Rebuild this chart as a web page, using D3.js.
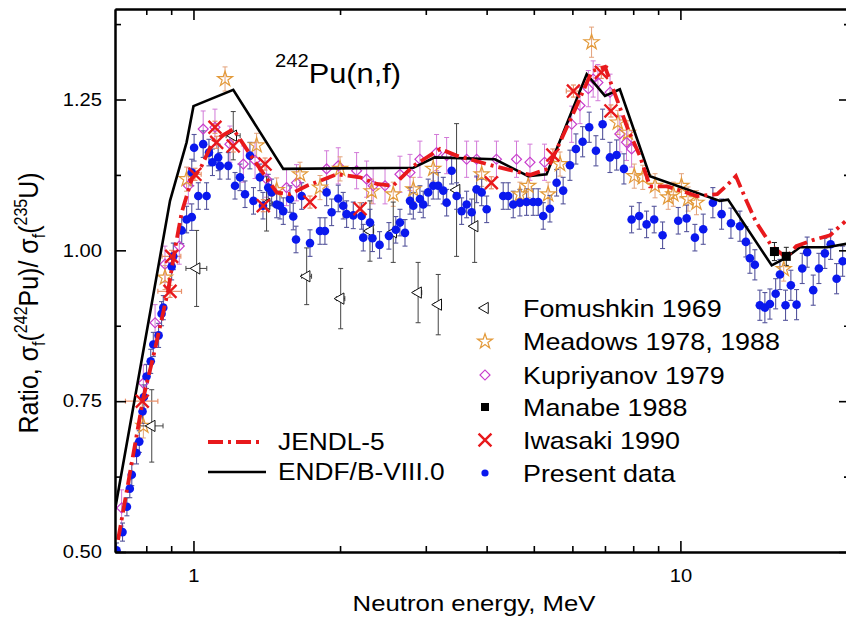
<!DOCTYPE html>
<html><head><meta charset="utf-8">
<script src="https://cdn.jsdelivr.net/npm/d3@7"></script>
<style>body{margin:0;background:#fff}svg{display:block}text{font-family:"Liberation Sans",Arial,sans-serif;fill:#000}</style>
</head><body><svg id="c" width="846" height="619"></svg>
<script>
// ---------- data ----------
const xMajorTicks=[1,10];
const xMinorTicks=[0.8,0.9,2,3,4,5,6,7,8,9];
const yMajorTicks=[0.5,0.75,1.0,1.25];
const yMinorTicks=[0.625,0.875,1.125,1.375];
const yTickLabels=["0.50","0.75","1.00","1.25"];

// ENDF/B-VIII.0 [E, ratio]
const endf=[[0.69,0.570],[0.826,0.924],[0.895,1.082],[0.968,1.179],[1.0,1.239],[1.207,1.266],[1.529,1.135],[2.83,1.137],[3.13,1.154],[4.16,1.151],[4.87,1.123],[5.31,1.126],[6.42,1.292],[7.0,1.256],[7.51,1.267],[8.66,1.123],[12.05,1.082],[12.53,1.084],[15.4,0.975],[16.5,0.988],[17.6,1.005],[20.0,1.005],[22.3,1.012]];
// JENDL-5 [E, ratio]
const jendl=[[0.70,0.52],[0.789,0.756],[0.827,0.824],[0.888,0.935],[0.916,1.002],[0.946,1.063],[0.992,1.118],[1.031,1.134],[1.098,1.181],[1.207,1.201],[1.327,1.151],[1.482,1.096],[1.578,1.093],[1.71,1.107],[1.97,1.126],[2.197,1.121],[2.378,1.110],[2.57,1.107],[2.83,1.140],[3.21,1.168],[3.47,1.157],[4.13,1.140],[4.92,1.125],[5.34,1.135],[6.08,1.234],[6.58,1.297],[7.0,1.304],[7.4,1.251],[7.8,1.201],[8.26,1.156],[8.66,1.106],[9.38,1.106],[10.1,1.098],[10.8,1.090],[11.9,1.093],[12.4,1.106],[13.0,1.123],[13.7,1.080],[14.3,1.047],[15.4,1.007],[16.5,0.988],[17.3,1.007],[18.7,1.017],[20.3,1.025],[21.8,1.048]];
// Fomushkin 1969 [E, ratio, dRatio, dE]
const fomushkin=[[0.821,0.709,0.060,0.045],[1.015,0.970,0.063,0.05],[1.207,1.190,0.040,0.04],[1.413,1.077,0.045,0.04],[1.708,0.957,0.047,0.04],[2.006,0.920,0.050,0.04],[2.304,1.032,0.050,0.04],[2.572,1.030,0.050,0.04],[2.893,0.930,0.050,0.05],[3.182,0.910,0.050,0.05],[3.47,1.100,0.110,0.05],[3.78,1.040,0.060,0.05]];
// Meadows 1978, 1988 [E, ratio, dRatio]
const meadows=[[0.789,0.709,0.02],[0.874,0.955,0.02],[0.968,1.118,0.02],[1.161,1.284,0.02],[1.348,1.174,0.02],[1.482,1.100,0.02],[1.655,1.126,0.02],[1.819,1.104,0.02],[2.0,1.135,0.02],[2.322,1.098,0.02],[2.572,1.093,0.02],[2.828,1.101,0.02],[3.107,1.135,0.02],[3.907,1.126,0.02],[4.681,1.093,0.02],[4.87,1.107,0.02],[5.35,1.093,0.02],[5.66,1.143,0.02],[6.57,1.345,0.025],[7.44,1.212,0.02],[7.8,1.195,0.02],[8.04,1.123,0.02],[8.37,1.121,0.02],[8.87,1.107,0.02],[9.44,1.088,0.02],[9.67,1.093,0.02],[10.05,1.107,0.02],[10.37,1.085,0.02],[10.79,1.079,0.02],[16.3,0.969,0.02]];
// Kupriyanov 1979 [E, ratio, dRatio]
const kupriyanov=[[0.712,0.573,0.03],[0.789,0.780,0.03],[0.834,0.880,0.03],[0.874,0.977,0.03],[0.935,1.007,0.03],[0.976,1.107,0.03],[1.047,1.201,0.03],[1.107,1.204,0.03],[1.188,1.176,0.03],[1.266,1.143,0.03],[1.338,1.149,0.03],[1.413,1.118,0.03],[1.553,1.104,0.03],[1.628,1.112,0.03],[1.877,1.135,0.03],[1.983,1.140,0.03],[2.163,1.132,0.03],[2.268,1.118,0.03],[2.339,1.107,0.03],[2.474,1.107,0.03],[2.655,1.126,0.03],[2.784,1.129,0.03],[2.918,1.151,0.03],[3.157,1.162,0.03],[3.311,1.157,0.03],[3.639,1.151,0.03],[3.815,1.151,0.03],[4.19,1.151,0.03],[4.607,1.151,0.03],[4.91,1.146,0.03],[5.26,1.146,0.03],[5.98,1.209,0.03],[6.22,1.240,0.03],[6.47,1.268,0.03],[6.62,1.284,0.03],[6.77,1.278,0.03],[7.17,1.262,0.03],[7.51,1.193,0.03],[7.75,1.179,0.03],[7.94,1.168,0.03]];
// Manabe 1988 [E, ratio, dRatio]
const manabe=[[15.6,0.998,0.015],[16.5,0.990,0.015]];
// Iwasaki 1990 [E, ratio, dRatio, dE]
const iwasaki=[[0.785,0.750,0.01,0.06],[0.895,0.932,0.01,0.05],[0.902,0.990,0.01,0.04],[1.007,1.126,0.01,0.03],[1.107,1.204,0.01,0],[1.116,1.179,0.01,0],[1.207,1.173,0.01,0],[1.403,1.143,0.01,0],[1.391,1.074,0.01,0],[1.735,1.080,0.01,0],[2.198,1.069,0.01,0],[4.09,1.112,0.01,0],[5.47,1.158,0.01,0],[6.03,1.264,0.01,0.2],[6.88,1.295,0.01,0],[7.2,1.231,0.01,0]];
// Present data [E, ratio, dRatio]
const present=[[0.695,0.503,0.012],[0.715,0.533,0.015],[0.730,0.575,0.015],[0.740,0.605,0.015],[0.747,0.628,0.018],[0.764,0.664,0.018],[0.774,0.683,0.018],[0.786,0.733,0.02],[0.791,0.757,0.02],[0.801,0.791,0.02],[0.817,0.816,0.02],[0.827,0.844,0.02],[0.848,0.859,0.02],[0.860,0.895,0.02],[0.867,0.905,0.02],[0.902,0.973,0.022],[0.909,0.990,0.022],[0.946,1.033,0.022],[0.968,1.051,0.022],[0.992,1.055,0.022],
[0.992,1.129,0.022],[1.003,1.170,0.022],[1.023,1.090,0.022],[1.047,1.176,0.022],[1.064,1.090,0.022],[1.076,1.162,0.022],[1.094,1.146,0.022],[1.124,1.154,0.022],[1.133,1.140,0.022],[1.179,1.140,0.022],[1.217,1.107,0.022],[1.246,1.121,0.022],[1.276,1.093,0.022],[1.306,1.157,0.022],[1.328,1.082,0.022],[1.369,1.121,0.022],[1.389,1.074,0.022],[1.424,1.104,0.022],[1.447,1.096,0.022],[1.482,1.076,0.022],[1.505,1.074,0.022],[1.529,1.065,0.022],[1.578,1.085,0.022],[1.603,1.056,0.022],[1.624,1.018,0.022],[1.668,1.090,0.022],[1.735,1.012,0.022],[1.819,1.032,0.022],[1.862,1.032,0.022],[1.877,1.096,0.022],[1.922,1.063,0.022],[1.983,1.086,0.022],[2.030,1.074,0.022],[2.063,1.060,0.022],[2.129,1.058,0.022],[2.215,1.057,0.022],[2.232,1.021,0.022],[2.304,1.046,0.022],[2.331,1.020,0.022],[2.411,1.009,0.022],[2.520,1.024,0.022],[2.603,1.034,0.022],[2.655,1.046,0.022],[2.719,1.029,0.022],[2.784,1.082,0.022],[2.828,1.074,0.022],[2.918,1.085,0.022],[2.964,1.076,0.022],[3.034,1.096,0.022],[3.107,1.107,0.022],[3.182,1.107,0.022],[3.258,1.099,0.022],[3.311,1.079,0.022],[3.390,1.132,0.022],[3.471,1.090,0.022],[3.554,1.065,0.022],[3.639,1.076,0.022],[3.727,1.063,0.022],[3.815,1.101,0.022],[3.907,1.096,0.022],[4.001,1.068,0.022],[4.326,1.090,0.022],[4.430,1.090,0.022],[4.536,1.076,0.022],[4.681,1.079,0.022],[4.832,1.080,0.022],[4.985,1.080,0.022],[5.105,1.080,0.022],[5.227,1.057,0.022],[5.395,1.069,0.022],[5.569,1.112,0.022],[5.744,1.099,0.022],[5.931,1.141,0.025],[6.101,1.168,0.025],[6.298,1.180,0.025],[6.497,1.204,0.025],[6.707,1.165,0.025],[6.923,1.209,0.025],[7.166,1.154,0.025],[7.396,1.158,0.025],[7.656,1.135,0.025],[7.940,1.051,0.022],[8.230,1.057,0.022],[8.522,1.043,0.022],[8.834,1.051,0.022],[9.192,1.025,0.022],[9.897,1.049,0.022],[10.30,1.053,0.022],[10.71,1.021,0.022],[11.14,1.035,0.025],[11.66,1.079,0.025],[12.15,1.060,0.025],[12.70,1.045,0.025],[13.25,1.040,0.025],[13.63,1.014,0.025],[13.89,0.987,0.025],[14.22,0.976,0.025],[14.56,0.909,0.025],[14.91,0.905,0.025],[15.27,0.911,0.025],[15.69,0.928,0.025],[16.01,0.960,0.025],[16.44,0.909,0.025],[16.86,0.942,0.025],[17.32,0.910,0.025],[17.79,0.970,0.025],[18.21,0.997,0.025],[18.74,0.934,0.025],[19.25,0.970,0.025],[19.80,0.995,0.025],[20.35,1.010,0.025],[20.93,0.953,0.025],[21.54,0.982,0.025]];

const legendSeries=["Fomushkin 1969","Meadows 1978, 1988","Kupriyanov 1979","Manabe 1988","Iwasaki 1990","Present data"];
const legendLines=["JENDL-5","ENDF/B-VIII.0"];

// ---------- layout ----------
const SX=1.12;
const P={left:115,right:850,top:9,bottom:552};
const svg=d3.select('#c');
const x=d3.scaleLog().domain([0.69,22.3]).range([P.left,P.right]);
const y=d3.scaleLinear().domain([0.5,1.4]).range([P.bottom,P.top]);
const C={blue:'#0a18ee',blueErr:'#55559c',kup:'#c83ccc',kupErr:'#d27ad8',mea:'#e39a3a',meaErr:'#e3a27a',iwa:'#e8191c',iwaErr:'#e8906a',fom:'#111',fomErr:'#444'};

svg.append('defs').append('clipPath').attr('id','clip').append('rect')
  .attr('x',P.left).attr('y',P.top).attr('width',P.right-P.left).attr('height',P.bottom-P.top);
const plot=svg.append('g').attr('clip-path','url(#clip)');

function errBars(data,color,cap,hasX,w){
  const g=plot.append('g').attr('stroke',color).attr('stroke-width',w||1).attr('fill','none');
  data.forEach(d=>{
    const cx=x(d[0]),y1=y(d[1]-d[2]),y2=y(d[1]+d[2]);
    g.append('line').attr('x1',cx).attr('x2',cx).attr('y1',y1).attr('y2',y2);
    g.append('line').attr('x1',cx-cap).attr('x2',cx+cap).attr('y1',y1).attr('y2',y1);
    g.append('line').attr('x1',cx-cap).attr('x2',cx+cap).attr('y1',y2).attr('y2',y2);
    if(hasX && d[3]>0){
      const cy=y(d[1]),x1=x(d[0]-d[3]),x2=x(d[0]+d[3]);
      g.append('line').attr('x1',x1).attr('x2',x2).attr('y1',cy).attr('y2',cy);
      g.append('line').attr('x1',x1).attr('x2',x1).attr('y1',cy-cap).attr('y2',cy+cap);
      g.append('line').attr('x1',x2).attr('x2',x2).attr('y1',cy-cap).attr('y2',cy+cap);
    }
  });
}
const sym=(type,size)=>d3.symbol().type(type).size(size)();
const triPath=sym(d3.symbolTriangle,55), starPath=sym(d3.symbolStar,70), diaPath=sym(d3.symbolSquare,50), xPath=sym(d3.symbolTimes,110);

// error bars
errBars(kupriyanov,C.kupErr,2.5,false,1);
errBars(meadows,C.meaErr,2.5,false,1);
errBars(fomushkin,C.fomErr,2.5,true,1);
errBars(present,C.blueErr,2.5,false,1.1);
errBars(iwasaki,C.iwaErr,2.5,true,1.2);
errBars(manabe,'#222',2.5,false,1);

// markers
plot.append('g').selectAll('path').data(kupriyanov).join('path').attr('d',diaPath)
  .attr('transform',d=>`translate(${x(d[0])},${y(d[1])}) rotate(45)`).attr('fill','none').attr('stroke',C.kup).attr('stroke-width',1.2);
plot.append('g').selectAll('path').data(meadows).join('path').attr('d',starPath)
  .attr('transform',d=>`translate(${x(d[0])},${y(d[1])})`).attr('fill','none').attr('stroke',C.mea).attr('stroke-width',1.2);
plot.append('g').selectAll('path').data(fomushkin).join('path').attr('d',triPath)
  .attr('transform',d=>`translate(${x(d[0])},${y(d[1])}) rotate(-90)`).attr('fill','#fff').attr('stroke',C.fom).attr('stroke-width',1);
plot.append('g').selectAll('circle').data(present).join('circle')
  .attr('cx',d=>x(d[0])).attr('cy',d=>y(d[1])).attr('r',4.3).attr('fill',C.blue);

// lines
const line=d3.line().x(d=>x(d[0])).y(d=>y(d[1]));
plot.append('path').datum(endf).attr('d',line).attr('fill','none').attr('stroke','#000').attr('stroke-width',2.6).attr('stroke-linejoin','miter');
plot.append('path').datum(jendl).attr('d',line).attr('fill','none').attr('stroke',C.iwa).attr('stroke-width',3.8).attr('stroke-dasharray','15,5,3,5');

plot.append('g').selectAll('path').data(iwasaki).join('path').attr('d',xPath)
  .attr('transform',d=>`translate(${x(d[0])},${y(d[1])})`).attr('fill','none').attr('stroke',C.iwa).attr('stroke-width',2.4);
plot.append('g').selectAll('rect').data(manabe).join('rect')
  .attr('x',d=>x(d[0])-4.5).attr('y',d=>y(d[1])-4.5).attr('width',9).attr('height',9).attr('fill','#000');

// ---------- axes ----------
function styleAxis(g,fs){
  g.select('.domain').attr('stroke','#000').attr('stroke-width',2);
  g.selectAll('.tick line').attr('stroke','#000').attr('stroke-width',1.6);
  g.selectAll('.tick text').attr('font-size',fs).attr('fill','#000').attr('font-family','"Liberation Sans",Arial,sans-serif');
}
const fmt=d=>d===1?'1':'10';
const ax1=svg.append('g').attr('transform',`translate(0,${P.bottom})`)
  .call(d3.axisBottom(x).tickValues(xMajorTicks).tickSize(-11).tickSizeOuter(0).tickPadding(17).tickFormat(fmt));
styleAxis(ax1,18);
ax1.selectAll('.tick text').attr('transform',`scale(${SX},1)`);
svg.append('g').attr('transform',`translate(0,${P.bottom})`).call(d3.axisBottom(x).tickValues(xMinorTicks).tickSize(-6).tickSizeOuter(0).tickFormat('')).call(g=>styleAxis(g,18));
svg.append('g').attr('transform',`translate(0,${P.top})`).call(d3.axisTop(x).tickValues(xMajorTicks).tickSize(-11).tickSizeOuter(0).tickFormat('')).call(g=>styleAxis(g,18));
svg.append('g').attr('transform',`translate(0,${P.top})`).call(d3.axisTop(x).tickValues(xMinorTicks).tickSize(-6).tickSizeOuter(0).tickFormat('')).call(g=>styleAxis(g,18));
const ayl=svg.append('g').attr('transform',`translate(${P.left},0)`)
  .call(d3.axisLeft(y).tickValues(yMajorTicks).tickSize(-11).tickSizeOuter(0).tickPadding(13).tickFormat((d,i)=>yTickLabels[i]));
styleAxis(ayl,18);
ayl.selectAll('.tick text').attr('transform',`scale(${SX},1)`).attr('x',-13/SX);
svg.append('g').attr('transform',`translate(${P.left},0)`).call(d3.axisLeft(y).tickValues(yMinorTicks).tickSize(-6).tickSizeOuter(0).tickFormat('')).call(g=>styleAxis(g,18));
svg.append('g').attr('transform',`translate(${P.right},0)`).call(d3.axisRight(y).tickValues(yMajorTicks).tickSize(-11).tickSizeOuter(0).tickFormat('')).call(g=>styleAxis(g,18));
svg.append('g').attr('transform',`translate(${P.right},0)`).call(d3.axisRight(y).tickValues(yMinorTicks).tickSize(-6).tickSizeOuter(0).tickFormat('')).call(g=>styleAxis(g,18));

// axis titles
svg.append('text').attr('transform',`translate(474,611) scale(${SX},1)`).attr('text-anchor','middle').attr('font-size',23).text('Neutron energy, MeV');
const yt=svg.append('text').attr('transform',`translate(38,303) scale(${SX},1) rotate(-90)`).attr('text-anchor','middle').attr('font-size',25);
yt.append('tspan').text('Ratio, σ');
yt.append('tspan').attr('font-size',16).attr('dy',6).text('f');
yt.append('tspan').attr('dy',-6).text('(');
yt.append('tspan').attr('font-size',16).attr('dy',-10).text('242');
yt.append('tspan').attr('dy',10).text('Pu)/ σ');
yt.append('tspan').attr('font-size',16).attr('dy',6).text('f');
yt.append('tspan').attr('dy',-6).text('(');
yt.append('tspan').attr('font-size',16).attr('dy',-10).text('235');
yt.append('tspan').attr('dy',10).text('U)');

// title
const tt=svg.append('text').attr('transform',`translate(275,83) scale(${SX},1)`).attr('font-size',27.5);
tt.append('tspan').attr('font-size',18).attr('dy',-16).text('242');
tt.append('tspan').attr('dy',16).text('Pu(n,f)');

// legend (lines)
const lg=svg.append('g');
lg.append('line').attr('x1',208).attr('x2',264).attr('y1',442).attr('y2',442).attr('stroke',C.iwa).attr('stroke-width',3.8).attr('stroke-dasharray','15,5,3,5');
lg.append('line').attr('x1',208).attr('x2',266).attr('y1',472).attr('y2',472).attr('stroke','#000').attr('stroke-width',2.6);
legendLines.forEach((t,i)=>lg.append('text').attr('transform',`translate(278,${450+i*30}) scale(${SX},1)`).attr('font-size',23.5).text(t));

// legend (markers)
const rows=[308,341.5,375,407,440,473];
const mk=svg.append('g');
mk.append('path').attr('d',triPath).attr('transform',`translate(485,${rows[0]}) rotate(-90)`).attr('fill','#fff').attr('stroke',C.fom);
mk.append('path').attr('d',starPath).attr('transform',`translate(485,${rows[1]})`).attr('fill','none').attr('stroke',C.mea).attr('stroke-width',1.2);
mk.append('path').attr('d',diaPath).attr('transform',`translate(485,${rows[2]}) rotate(45)`).attr('fill','none').attr('stroke',C.kup).attr('stroke-width',1.2);
mk.append('rect').attr('x',481).attr('y',rows[3]-4).attr('width',8).attr('height',8).attr('fill','#000');
mk.append('path').attr('d',xPath).attr('transform',`translate(485,${rows[4]})`).attr('fill','none').attr('stroke',C.iwa).attr('stroke-width',2.4);
mk.append('circle').attr('cx',485).attr('cy',rows[5]).attr('r',3.6).attr('fill',C.blue);
legendSeries.forEach((t,i)=>mk.append('text').attr('transform',`translate(523,${rows[i]+8.5}) scale(${SX},1)`).attr('font-size',24).text(t));
</script></body></html>
